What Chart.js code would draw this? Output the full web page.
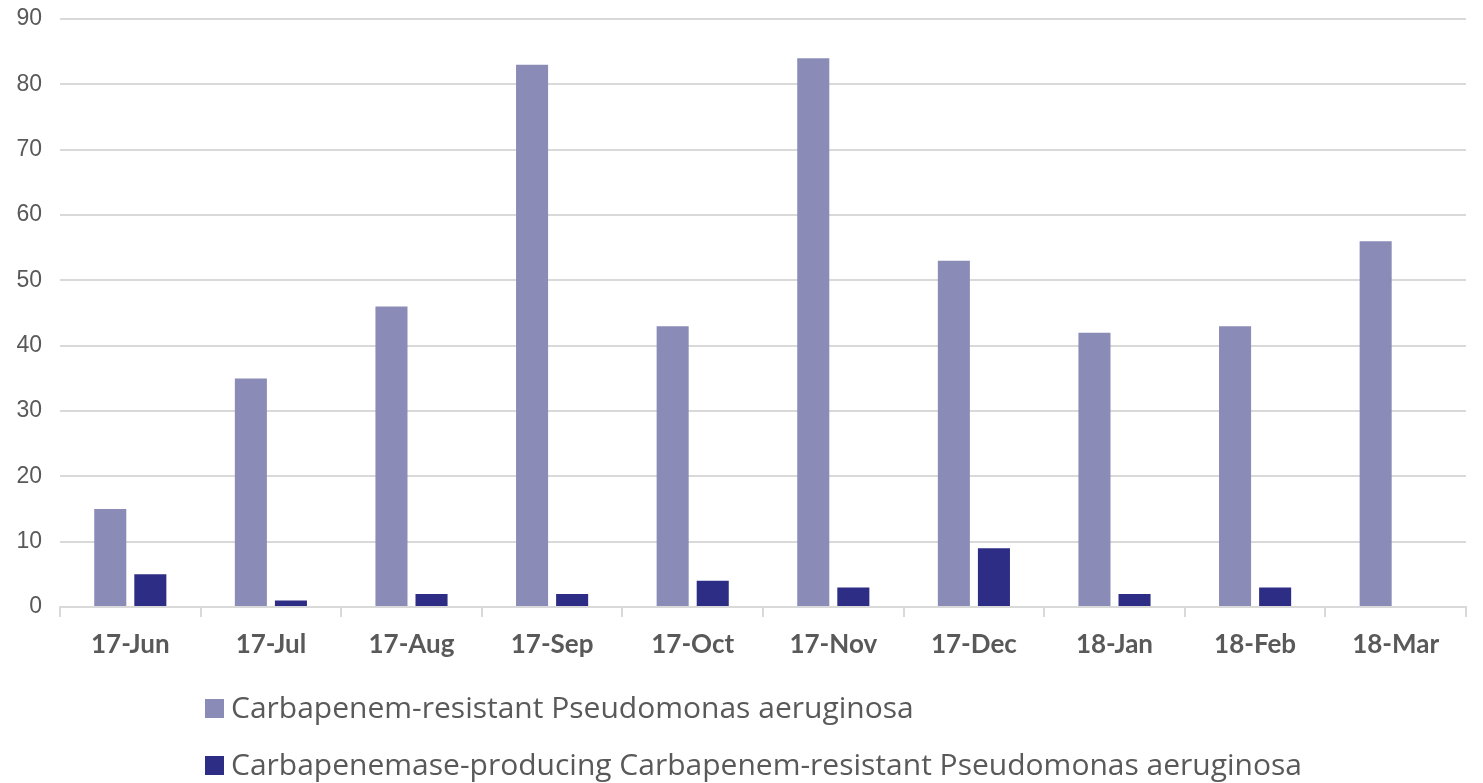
<!DOCTYPE html>
<html><head><meta charset="utf-8">
<script src="https://cdn.jsdelivr.net/npm/chart.js@4/dist/chart.umd.min.js"></script>
<style>
html,body{margin:0;padding:0;background:#fff;}
#wrap{position:relative;width:1483px;height:783px;}
#c{position:absolute;left:0;top:0;}
.leg{position:absolute;left:205px;font-family:"Open Sans",sans-serif;font-size:30px;color:#595959;white-space:nowrap;line-height:1;}
.leg span.sw{display:inline-block;width:19px;height:19px;margin-right:7px;vertical-align:baseline;}
</style></head>
<body>
<div id="wrap">
<canvas id="c" width="1483" height="783"></canvas>
<div class="leg" id="l1" style="top:692px;"></div>
<div class="leg" id="l2" style="top:749px;"></div>
</div>
<script>
const categories = ["17-Jun","17-Jul","17-Aug","17-Sep","17-Oct","17-Nov","17-Dec","18-Jan","18-Feb","18-Mar"];
const seriesNames = ["Carbapenem-resistant Pseudomonas aeruginosa","Carbapenemase-producing Carbapenem-resistant Pseudomonas aeruginosa"];
const resistant = [15,35,46,83,43,84,53,42,43,56];
const producing = [5,1,2,2,4,3,9,2,3,null];
const colors = ["#8B8BB8","#2E2D85"];

[["l1",0],["l2",1]].forEach(([id,i])=>{
  const el=document.getElementById(id);
  const sw=document.createElement('span');sw.className='sw';sw.style.background=colors[i];
  el.appendChild(sw);
  el.appendChild(document.createTextNode(seriesNames[i]));
});

new Chart(document.getElementById('c'),{
  type:'bar',
  data:{labels:categories,datasets:[
    {label:seriesNames[0],data:resistant,backgroundColor:colors[0],barPercentage:0.8,categoryPercentage:0.57},
    {label:seriesNames[1],data:producing,backgroundColor:colors[1],barPercentage:0.8,categoryPercentage:0.57}
  ]},
  options:{
    responsive:false,animation:false,
    layout:{padding:{top:0,right:17,bottom:116,left:0}},
    plugins:{legend:{display:false},tooltip:{enabled:false}},
    scales:{
      x:{
        grid:{offset:true,drawOnChartArea:false,drawTicks:true,tickLength:10,color:'#d9d9d9',lineWidth:2},
        border:{display:true,color:'#d9d9d9',width:2},
        ticks:{color:'#595959',padding:12,font:{family:'Lato',size:26,weight:'bold'},maxRotation:0},
        afterFit:(s)=>{s.height=60;}
      },
      y:{
        min:0,max:90,
        ticks:{stepSize:10,color:'#595959',padding:18,font:{family:'Liberation Sans',size:23,lineHeight:0.1}},
        grid:{color:'#d9d9d9',lineWidth:2,drawTicks:false},
        border:{display:false},
        afterFit:(s)=>{s.width=60;}
      }
    }
  }
});
</script>
</body></html>
